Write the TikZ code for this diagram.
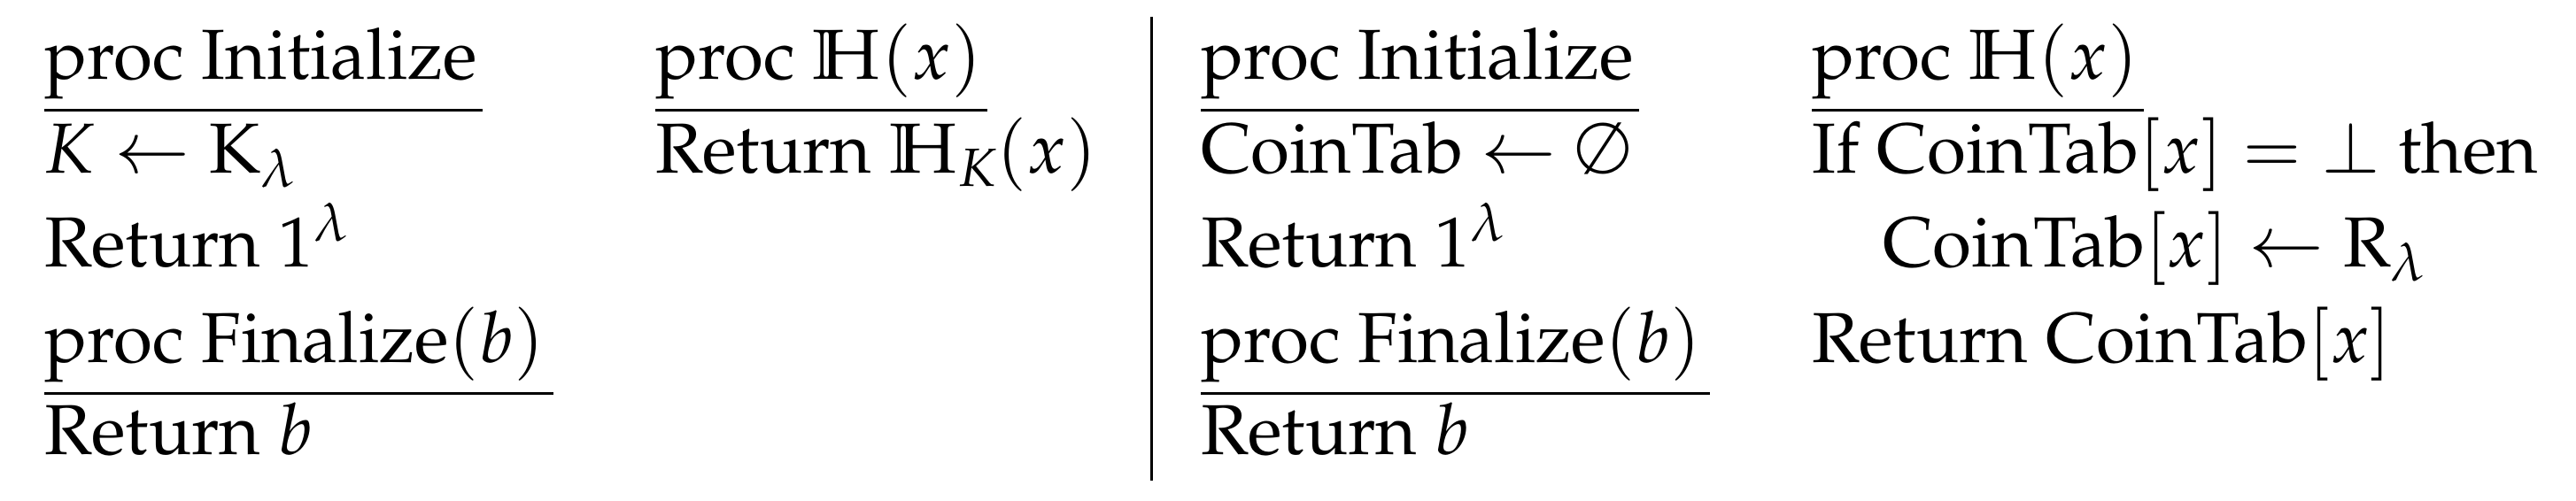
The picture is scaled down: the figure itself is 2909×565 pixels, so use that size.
\documentclass[tikz,border=0pt]{standalone}
\usepackage[T1]{fontenc}
\usepackage{mathpazo}
\usepackage{amssymb}
\begin{document}
\begin{tikzpicture}[x=1pt,y=1pt,
  t/.style={anchor=base west,inner sep=0pt,font=\fontsize{80}{96}\selectfont},
  ul/.style={line width=3pt}]
\useasboundingbox (0,0) rectangle (2909,565);
% column 1
\node[t] (a1) at (50,475) {proc Initialize};
\node[t] (a2) at (50,369) {$K\leftarrow \mathrm{K}_\lambda$};
\node[t] (a3) at (50,263) {Return $1^\lambda$};
\node[t] (a4) at (50,155) {proc Finalize$(b)$};
\node[t] (a5) at (50,52) {Return $b$};
\draw[ul] ([yshift=-35]a1.base west) -- ([xshift=6,yshift=-35]a1.base east);
\draw[ul] ([yshift=-35]a4.base west) -- ([xshift=10,yshift=-35]a4.base east);
% column 2
\node[t] (b1) at (740,475) {proc $\mathbb{H}(x)$};
\node[t] (b2) at (740,369) {Return $\mathbb{H}_K(x)$};
\draw[ul] ([yshift=-35]b1.base west) -- ([xshift=6,yshift=-35]b1.base east);
% divider
\coordinate (d1) at (1300,546);
\coordinate (d2) at (1300,22);
\draw[line width=3pt] (d1) -- (d2);
% column 3
\node[t] (c1) at (1356,475) {proc Initialize};
\node[t] (c2) at (1356,369) {CoinTab $\leftarrow\emptyset$};
\node[t] (c3) at (1356,263) {Return $1^\lambda$};
\node[t] (c4) at (1356,155) {proc Finalize$(b)$};
\node[t] (c5) at (1356,52) {Return $b$};
\draw[ul] ([yshift=-35]c1.base west) -- ([xshift=6,yshift=-35]c1.base east);
\draw[ul] ([yshift=-35]c4.base west) -- ([xshift=10,yshift=-35]c4.base east);
% column 4
\node[t] (e1) at (2046,475) {proc $\mathbb{H}(x)$};
\node[t] (e2) at (2046,369) {If CoinTab$[x]=\bot$ then};
\node[t] (e3) at (2126,263) {CoinTab$[x]\leftarrow\mathrm{R}_\lambda$};
\node[t] (e4) at (2046,155) {Return CoinTab$[x]$};
\draw[ul] ([yshift=-35]e1.base west) -- ([xshift=6,yshift=-35]e1.base east);
\end{tikzpicture}
\end{document}
